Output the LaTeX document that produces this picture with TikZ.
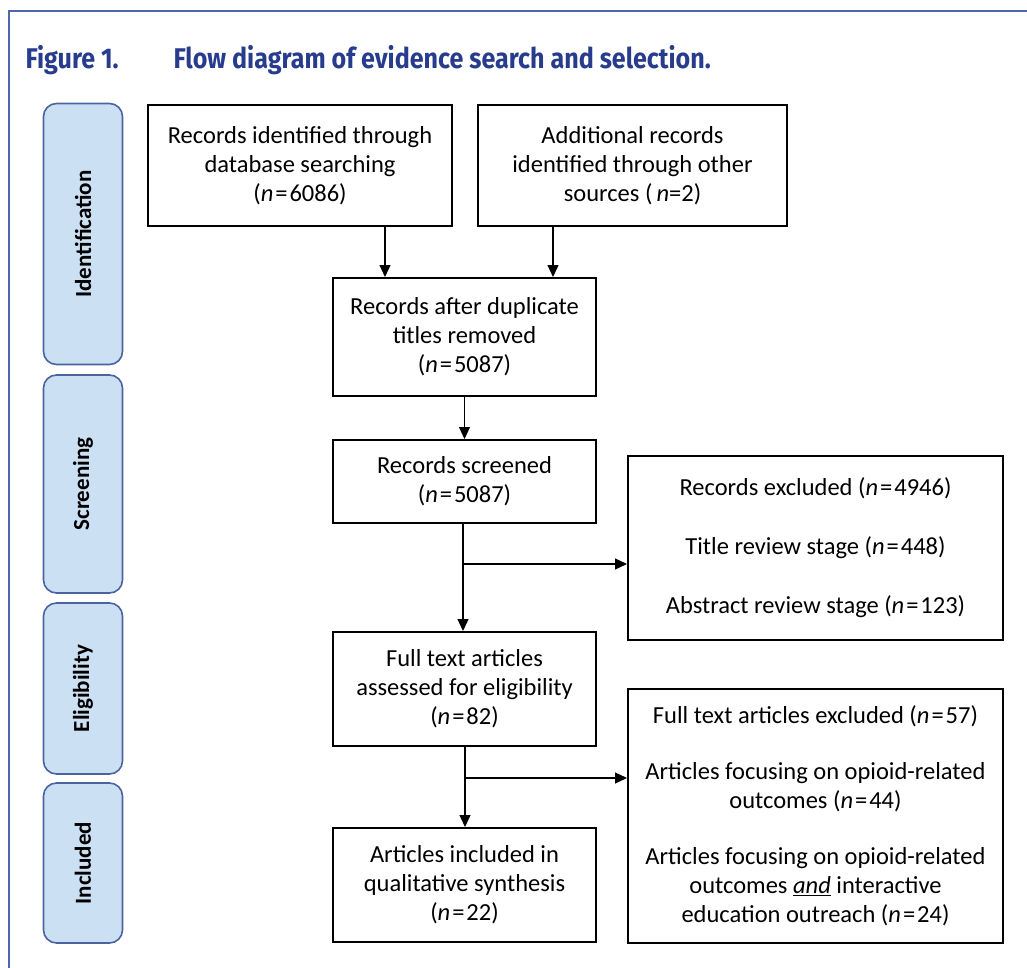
\documentclass[tikz,border=0pt]{standalone}
\usepackage{fontspec}
\setmainfont{Carlito}
\newfontfamily\titlefont[FakeStretch=0.88]{Fira Sans}
\usetikzlibrary{arrows.meta}
\definecolor{framecol}{HTML}{4F67AE}
\definecolor{titlecol}{HTML}{283C8E}
\definecolor{phasefill}{HTML}{CCE0F3}
\definecolor{phaseline}{HTML}{4A64A0}
\newcommand{\nval}[1]{(\textit{n}\hspace{2pt}=\hspace{2pt}#1)}

\begin{document}
\begin{tikzpicture}[x=1pt,y=-1pt,
  box/.style={draw=black,line width=2pt,align=center,inner sep=0pt,font=\fontsize{24.5}{29}\selectfont},
  phase/.style={draw=phaseline,fill=phasefill,line width=1.6pt,rounded corners=13pt,rotate=90,
    minimum height=79pt,inner sep=0pt,font=\fontsize{23}{27}\selectfont\bfseries},
  arr/.style={-{Triangle[length=12pt,width=11pt]},line width=1.2pt}]
\useasboundingbox (0,0) rectangle (1027,968);
\draw[framecol,line width=2pt] (9,968) -- (9,11) -- (1027,11);

% title
\node[anchor=base west,text=titlecol,font=\titlefont\bfseries\fontsize{28.5}{32}\selectfont](fig) at (22,69){Figure 1.};
\node[anchor=base west,text=titlecol,font=\titlefont\bfseries\fontsize{28.5}{32}\selectfont](cap) at (170,69){Flow diagram of evidence search and selection.};

% phases
\node[phase,minimum width=261pt](idf) at (83,234){Identification};
\node[phase,minimum width=218pt](scr) at (83,484){Screening};
\node[phase,minimum width=171pt](elg) at (83,688.5){Eligibility};
\node[phase,minimum width=160pt](inc) at (83,863){Included};

% boxes
\node[box,minimum width=304pt,minimum height=121pt](dbs) at (300,165.5){Records identified through\\database searching\\\nval{6086}};
\node[box,minimum width=309pt,minimum height=121pt](oth) at (632.5,165.5){Additional records\\identified through other\\sources (\,\textit{n}=2)};
\node[box,minimum width=263pt,minimum height=118pt](dup) at (464.5,337){Records after duplicate\\titles removed\\\nval{5087}};
\node[box,minimum width=263pt,minimum height=83pt](scn) at (464.5,481.5){Records screened\\\nval{5087}};
\node[box,minimum width=263pt,minimum height=114pt](ful) at (464.5,689){Full text articles\\assessed for eligibility\\\nval{82}};
\node[box,minimum width=263pt,minimum height=114pt](inq) at (464.5,885){Articles included in\\qualitative synthesis\\\nval{22}};
\node[box,minimum width=375pt,minimum height=184pt](exr) at (815.5,548){Records excluded \nval{4946}\\[30pt]Title review stage \nval{448}\\[30pt]Abstract review stage \nval{123}};
\node[box,minimum width=375pt,minimum height=254pt](exf) at (815.5,816){Full text articles excluded \nval{57}\\[27pt]Articles focusing on opioid-related\\outcomes \nval{44}\\[27pt]Articles focusing on opioid-related\\outcomes \underline{\textit{and}} interactive\\education outreach \nval{24}};

% connectors
\coordinate (a1) at (385,0);
\coordinate (a2) at (553,0);
\coordinate (s1) at (463,564);
\coordinate (s2) at (465,778);
\draw[arr](dbs.south -| a1)--(dup.north -| a1);
\draw[arr](oth.south -| a2)--(dup.north -| a2);
\draw[arr](dup)--(scn);
\draw[arr](scn.south -| s1)--(ful.north -| s1);
\draw[arr](s1)--(s1 -| exr.west);
\draw[arr](ful.south -| s2)--(inq.north -| s2);
\draw[arr](s2)--(s2 -| exf.west);
\end{tikzpicture}
\end{document}
